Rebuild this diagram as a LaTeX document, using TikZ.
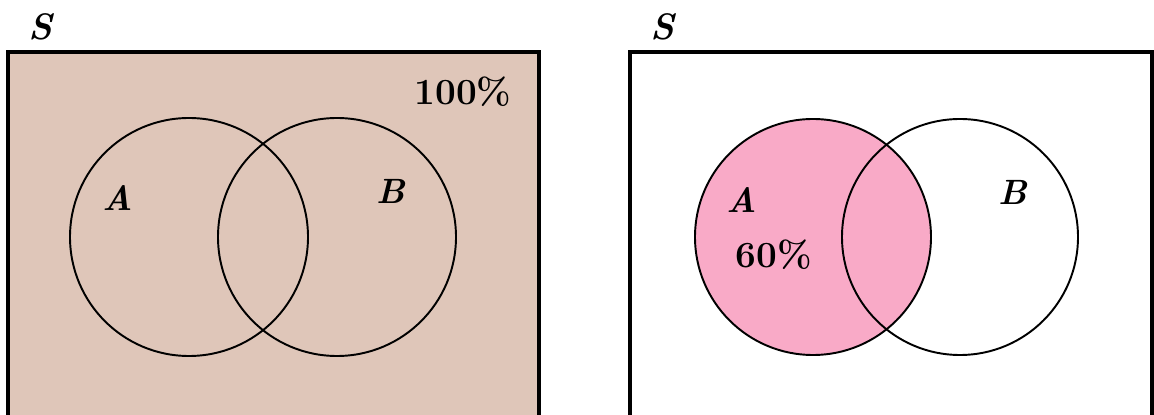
\documentclass[tikz,border=0pt]{standalone}
\usepackage{xcolor}
\usetikzlibrary{positioning}
\definecolor{sandfill}{RGB}{223,198,185}
\definecolor{pinkfill}{RGB}{249,170,199}

\begin{document}
\begin{tikzpicture}[
    x=0.02cm, y=-0.02cm,
    box line/.style={draw, line width=2pt},
    ring line/.style={draw, line width=1.1pt},
    letter label/.style={font=\fontsize{20}{24}\selectfont\bfseries\itshape, inner sep=0pt},
    space label/.style={font=\fontsize{21}{25}\selectfont\bfseries\itshape, inner sep=0pt},
    percent label/.style={font=\fontsize{21}{25}\selectfont\bfseries, inner sep=0pt}
]

% SAME BOUNDING BOX
\path[use as bounding box] (0,0) rectangle (1154,415);
\clip (0,0) rectangle (1154,415);

% LEFT: WHOLE SPACE
\fill[sandfill] (8,52) rectangle (539,430);
\draw[box line] (8,430) -- (8,52) -- (539,52) -- (539,430);
\draw[ring line] (189,237) circle[radius=119];
\draw[ring line] (337,237) circle[radius=119];

\node[space label] (S1) at (40,27) {S};
\node[letter label] (A1) at (118,198) {A};
\node[letter label] (B1) at (391,191) {B};
\node[percent label] (P1) at (463,92) {100\%};

% RIGHT: EVENT A
\draw[box line] (630,430) -- (630,52) -- (1152,52) -- (1152,430);
\fill[pinkfill] (813,237) circle[radius=118];
\draw[ring line] (813,237) circle[radius=118];
\draw[ring line] (960,237) circle[radius=118];

\node[space label] (S2) at (662,27) {S};
\node[letter label] (A2) at (742,200) {A};
\node[letter label] (B2) at (1013,192) {B};
\node[percent label] (P2) at (774,255) {60\%};

\end{tikzpicture}
\end{document}
